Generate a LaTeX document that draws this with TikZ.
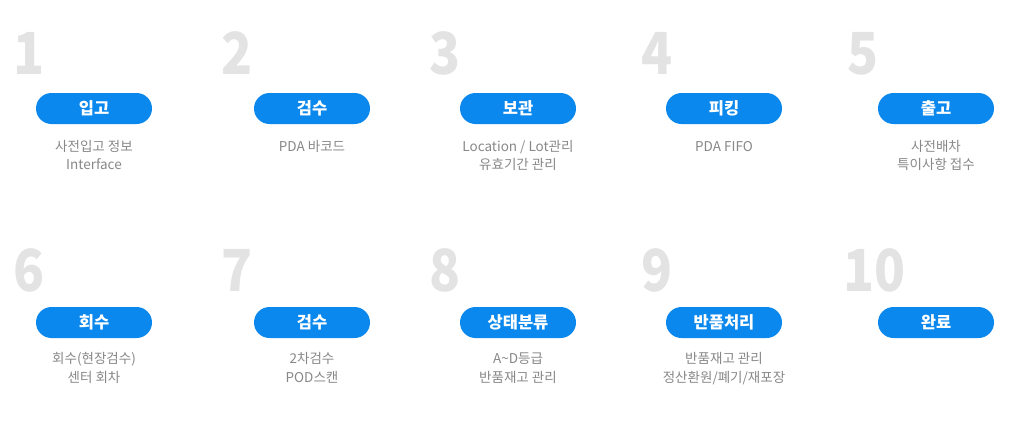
\documentclass[tikz,border=0pt]{standalone}
\usepackage{fontspec}
\setmainfont{Noto Sans CJK KR}
\newfontfamily\numfont{Noto Sans CJK KR Black}
\definecolor{pillblue}{HTML}{0B88EE}
\definecolor{numgray}{HTML}{E3E3E3}
\definecolor{capgray}{HTML}{888888}
\begin{document}
\begin{tikzpicture}[x=1pt,y=-1pt,
  pill/.style={fill=pillblue, text=white, minimum width=116pt, minimum height=31pt,
    rounded corners=15.5pt, inner sep=0pt, font=\fontsize{16.5}{16.5}\selectfont\bfseries},
  stepnum/.style={anchor=base west, inner sep=0pt, text=numgray,
    font=\fontsize{58}{58}\selectfont\numfont, xscale=0.88},
  captext/.style={anchor=base, inner sep=0pt, text=capgray, font=\fontsize{13.5}{13.5}\selectfont}]
\fill[white] (0,0) rectangle (1024,437);
\useasboundingbox (0,0) rectangle (1024,437);
% row 1
\node[stepnum] (n1) at (13,74) {1};
\node[stepnum] (n2) at (221,74) {2};
\node[stepnum] (n3) at (429,74) {3};
\node[stepnum] (n4) at (641,74) {4};
\node[stepnum] (n5) at (847,74) {5};
\node[pill] (p1) at (94,108.5) {입고};
\node[pill] (p2) at (312,108.5) {검수};
\node[pill] (p3) at (518,108.5) {보관};
\node[pill] (p4) at (724,108.5) {피킹};
\node[pill] (p5) at (936,108.5) {출고};
\node[captext] (c1a) at (94,151) {사전입고 정보};
\node[captext] (c1b) at (94,169) {Interface};
\node[captext] (c2a) at (312,151) {PDA 바코드};
\node[captext] (c3a) at (518,151) {Location / Lot관리};
\node[captext] (c3b) at (518,169) {유효기간 관리};
\node[captext] (c4a) at (724,151) {PDA FIFO};
\node[captext] (c5a) at (936,151) {사전배차};
\node[captext] (c5b) at (936,169) {특이사항 접수};
% row 2
\node[stepnum] (n6) at (13,291) {6};
\node[stepnum] (n7) at (221,291) {7};
\node[stepnum] (n8) at (429,291) {8};
\node[stepnum] (n9) at (641,291) {9};
\node[stepnum] (n10) at (843,291) {10};
\node[pill] (p6) at (94,322.5) {회수};
\node[pill] (p7) at (312,322.5) {검수};
\node[pill] (p8) at (518,322.5) {상태분류};
\node[pill] (p9) at (724,322.5) {반품처리};
\node[pill] (p10) at (936,322.5) {완료};
\node[captext] (c6a) at (94,363) {회수(현장검수)};
\node[captext] (c6b) at (94,382) {센터 회차};
\node[captext] (c7a) at (312,363) {2차검수};
\node[captext] (c7b) at (312,382) {POD스캔};
\node[captext] (c8a) at (518,363) {A\textasciitilde D등급};
\node[captext] (c8b) at (518,382) {반품재고 관리};
\node[captext] (c9a) at (724,363) {반품재고 관리};
\node[captext] (c9b) at (724,382) {정산환원/폐기/재포장};
\end{tikzpicture}
\end{document}
